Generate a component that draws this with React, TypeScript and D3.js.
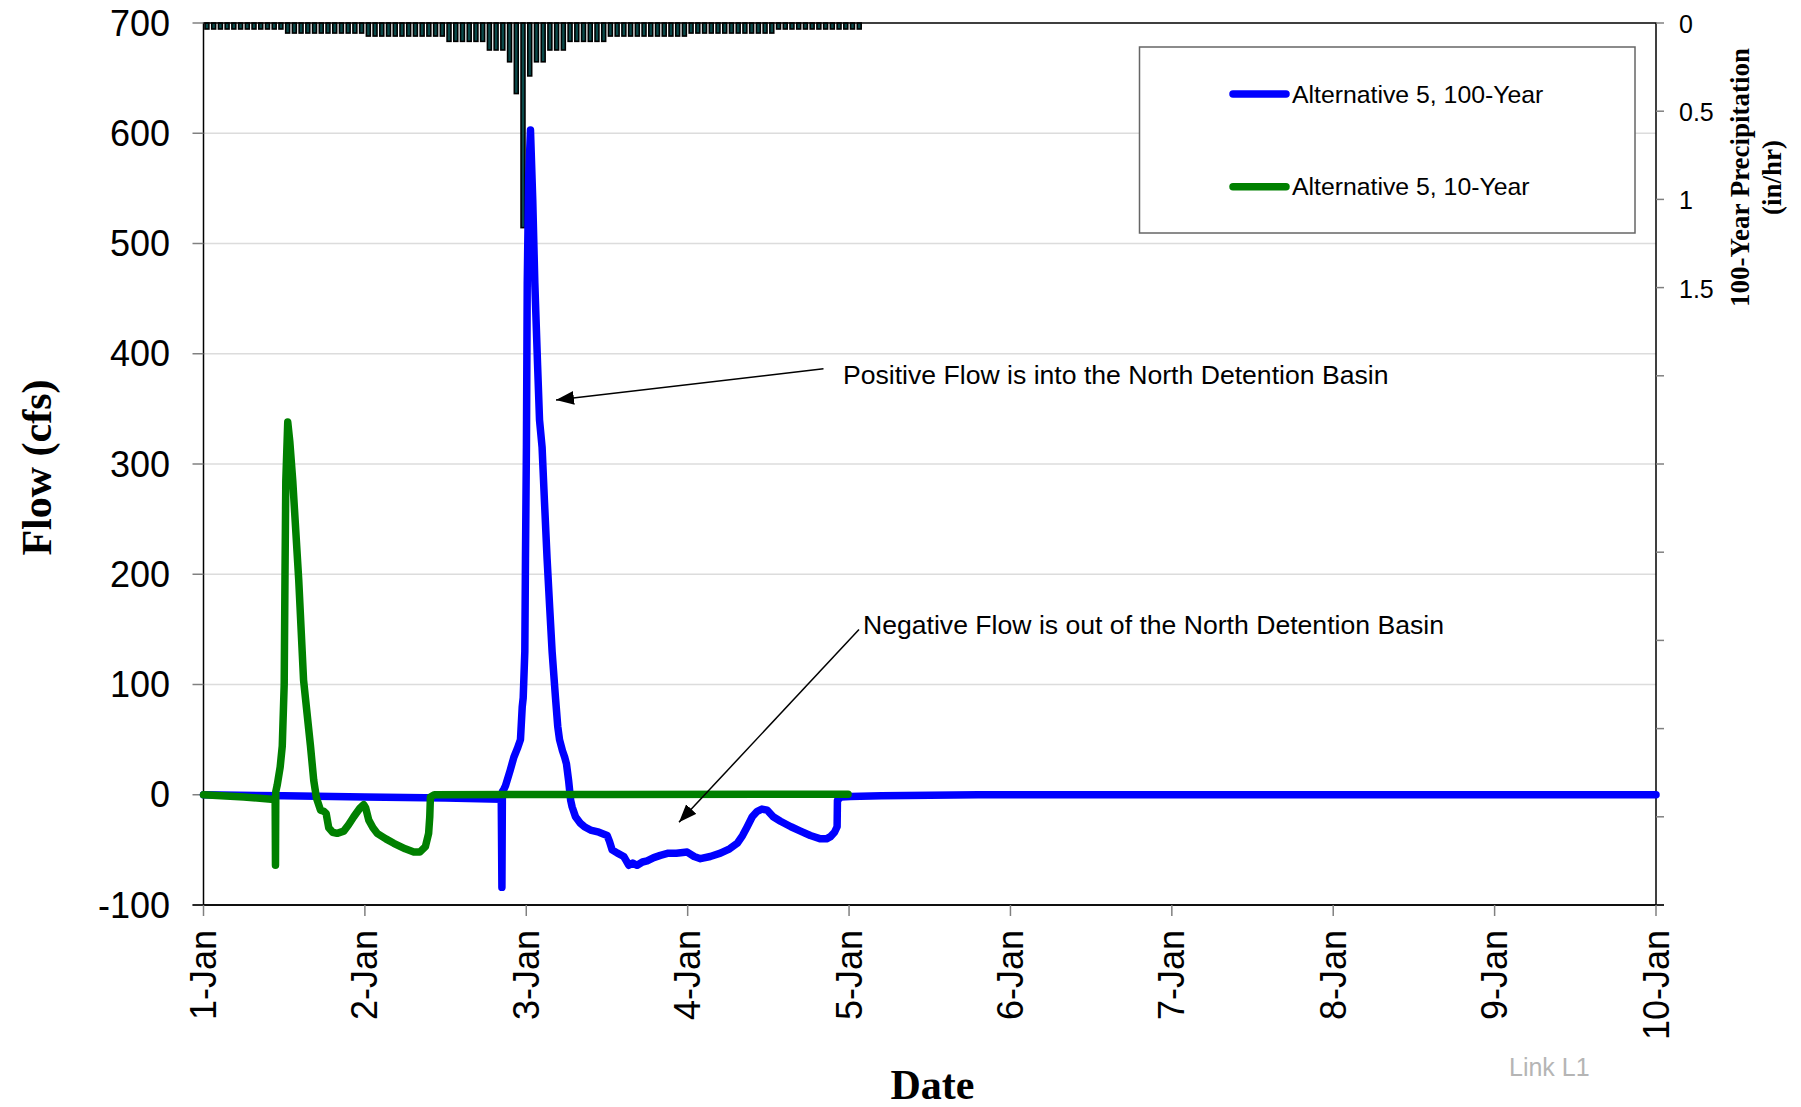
import * as d3 from 'd3';
import React from 'react';

// Flow series, time in days (1 = 1-Jan 00:00)
const blueDays = [1.0, 1.5, 2.0, 2.5, 2.845, 2.849, 2.852, 2.861, 2.871, 2.9, 2.923, 2.945, 2.964, 2.975, 2.981, 2.991, 2.995, 3.001, 3.006, 3.015, 3.026, 3.04, 3.053, 3.07, 3.082, 3.098, 3.113, 3.129, 3.145, 3.16, 3.181, 3.195, 3.206, 3.224, 3.238, 3.249, 3.263, 3.275, 3.284, 3.305, 3.336, 3.36, 3.398, 3.45, 3.501, 3.515, 3.532, 3.565, 3.604, 3.62, 3.635, 3.66, 3.687, 3.72, 3.749, 3.79, 3.831, 3.88, 3.93, 3.997, 4.04, 4.079, 4.14, 4.203, 4.26, 4.307, 4.34, 4.369, 4.4, 4.431, 4.46, 4.493, 4.53, 4.575, 4.64, 4.699, 4.76, 4.823, 4.86, 4.885, 4.91, 4.926, 4.928, 4.95, 5.007, 5.2, 5.5, 5.8, 10.0];
const blueFlow = [0, -1, -2, -3, -4, -84, 3, 5, 8, 22, 34, 42, 50, 80, 88, 130, 214, 318, 464, 560, 603, 540, 464, 390, 340, 315, 265, 214, 170, 130, 88, 62, 50, 40, 34, 28, 12, -5, -11, -20, -26, -29, -32, -34, -37, -42, -50, -53, -56, -60, -64, -62, -64, -61, -60, -57, -55, -53, -53, -52, -56, -58, -56, -53, -49, -44, -37, -29, -20, -15, -13, -14, -20, -24, -29, -33, -37, -40, -40, -38, -34, -29, -5, -2, -1.5, -1, -0.5, 0, 0];

const greenDays = [1.0, 1.25, 1.42, 1.444, 1.446, 1.448, 1.457, 1.475, 1.488, 1.5, 1.505, 1.51, 1.522, 1.535, 1.553, 1.59, 1.62, 1.663, 1.683, 1.7, 1.725, 1.745, 1.76, 1.776, 1.8, 1.828, 1.869, 1.9, 1.931, 1.97, 1.993, 2.005, 2.024, 2.05, 2.076, 2.13, 2.179, 2.25, 2.303, 2.34, 2.375, 2.395, 2.402, 2.406, 2.43, 3.5, 4.994];
const greenFlow = [0, -2, -4, -4, -64, 3, 9, 25, 44, 100, 200, 285, 338, 320, 285, 195, 104, 44, 13, -3, -14, -15, -17, -30, -34, -35, -33, -27, -20, -12, -9, -12, -23, -30, -35, -40, -44, -49, -52, -52, -47, -35, -20, -2, 0, 0.3, 0.5];

// hourly 100-year precipitation (in/hr), starting 1-Jan 00:00
const precipHourly = [
  0.034, 0.034, 0.034, 0.034, 0.034, 0.034, 0.034, 0.034, 0.034, 0.034, 0.034, 0.034,
  0.057, 0.057, 0.057, 0.057, 0.057, 0.057, 0.057, 0.057, 0.057, 0.057, 0.057, 0.057,
  0.074, 0.074, 0.074, 0.074, 0.074, 0.074, 0.074, 0.074, 0.074, 0.074, 0.074, 0.074,
  0.104, 0.104, 0.104, 0.104, 0.104, 0.104,
  0.153, 0.153, 0.153,
  0.22, 0.40, 1.16, 0.30, 0.22, 0.22,
  0.153, 0.153, 0.153,
  0.104, 0.104, 0.104, 0.104, 0.104, 0.104,
  0.074, 0.074, 0.074, 0.074, 0.074, 0.074, 0.074, 0.074, 0.074, 0.074, 0.074, 0.074,
  0.057, 0.057, 0.057, 0.057, 0.057, 0.057, 0.057, 0.057, 0.057, 0.057, 0.057, 0.057, 0.057,
  0.034, 0.034, 0.034, 0.034, 0.034, 0.034, 0.034, 0.034, 0.034, 0.034, 0.034, 0.034, 0.034,
];

const flowTicks = [700, 600, 500, 400, 300, 200, 100, 0, -100];
const precipTicks = [0, 0.5, 1, 1.5, 2, 2.5, 3, 3.5, 4, 4.5, 5];
const precipLabels = [0, 0.5, 1, 1.5];
const seriesNames = ['Alternative 5, 100-Year', 'Alternative 5, 10-Year'];
const seriesColors = ['#0000ff', '#008000'];

const SANS = '"Liberation Sans", Arial, sans-serif';
const SERIF = '"Liberation Serif", "Times New Roman", serif';

const START = new Date(2000, 0, 1);
const toDate = (d: number) => new Date(START.getTime() + (d - 1) * 864e5);

const App = () => {
  const left = 203.5, right = 1656, top = 23, bottom = 905;

  const x = d3.scaleTime().domain([toDate(1), toDate(10)]).range([left, right]);
  const y = d3.scaleLinear().domain([-100, 700]).range([bottom, top]);
  const y2 = d3.scaleLinear().domain([0, 5]).range([top, bottom]);

  const line = d3.line<[number, number]>()
    .x(d => x(toDate(d[0])))
    .y(d => y(d[1]));

  const bluePts = blueDays.map((d, i) => [d, blueFlow[i]] as [number, number]);
  const greenPts = greenDays.map((d, i) => [d, greenFlow[i]] as [number, number]);

  const dayTicks = x.ticks(d3.timeDay.every(1)!);
  const fmt = d3.timeFormat('%-d-%b');

  return (
    <svg width={1801} height={1107} style={{ position: 'absolute', left: 0, top: 0, background: '#fff' }}>
      <defs>
        <marker id="arr" markerUnits="userSpaceOnUse" markerWidth={20} markerHeight={16} refX={18} refY={7} orient="auto">
          <path d="M0,0 L18,7 L0,14 Z" fill="#000" />
        </marker>
      </defs>

      {/* gridlines */}
      {flowTicks.filter(t => t !== 700 && t !== -100).map(t => (
        <line key={'g' + t} x1={left} x2={right} y1={y(t)} y2={y(t)} stroke="#dcdcdc" strokeWidth={1.5} />
      ))}

      {/* precipitation bars hanging from top */}
      {precipHourly.map((p, i) => {
        const x0 = x(d3.timeHour.offset(START, i));
        const x1 = x(d3.timeHour.offset(START, i + 1));
        const w = (x1 - x0) * 0.58;
        return (
          <rect key={'p' + i} x={x0 + 1.5} y={y2(0)} width={w} height={y2(p) - y2(0)}
            fill="#0a4a4a" stroke="#000" strokeWidth={1.6} />
        );
      })}

      {/* plot frame */}
      <rect x={left} y={top} width={right - left} height={bottom - top} fill="none" stroke="#000" strokeWidth={1.5} />

      {/* left axis ticks + labels */}
      {flowTicks.map(t => (
        <g key={'l' + t}>
          <line x1={left - 11} x2={left} y1={y(t)} y2={y(t)} stroke="#808080" strokeWidth={1.5} />
          <text x={170} y={y(t)} textAnchor="end" dominantBaseline="central" fontFamily={SANS} fontSize={36} fill="#000">{t}</text>
        </g>
      ))}

      {/* right axis */}
      {precipTicks.map(t => (
        <line key={'r' + t} x1={right} x2={right + 8} y1={y2(t)} y2={y2(t)} stroke="#808080" strokeWidth={1.5} />
      ))}
      {precipLabels.map(t => (
        <text key={'rl' + t} x={1679} y={y2(t) + 1} dominantBaseline="central" fontFamily={SANS} fontSize={25} fill="#000">{t}</text>
      ))}

      {/* bottom axis */}
      <line x1={left - 11} x2={right + 8} y1={bottom} y2={bottom} stroke="#000" strokeWidth={1.5} />
      {dayTicks.map(d => (
        <g key={'x' + d.getTime()}>
          <line x1={x(d)} x2={x(d)} y1={bottom} y2={bottom + 11} stroke="#808080" strokeWidth={1.5} />
          <text transform={`translate(${x(d)},930) rotate(-90)`} textAnchor="end" dominantBaseline="central"
            fontFamily={SANS} fontSize={36} fill="#000">{fmt(d)}</text>
        </g>
      ))}

      {/* series */}
      <path d={line(bluePts) || ''} fill="none" stroke={seriesColors[0]} strokeWidth={7.5} strokeLinejoin="round" strokeLinecap="round" />
      <path d={line(greenPts) || ''} fill="none" stroke={seriesColors[1]} strokeWidth={7.5} strokeLinejoin="round" strokeLinecap="round" />

      {/* legend */}
      <rect x={1139.5} y={47} width={495.5} height={186} fill="#fff" stroke="#666" strokeWidth={1.5} />
      {seriesNames.map((n, i) => (
        <g key={n}>
          <line x1={1233} x2={1286} y1={94 + i * 92.7} y2={94 + i * 92.7} stroke={seriesColors[i]} strokeWidth={7.5} strokeLinecap="round" />
          <text x={1292} y={102.7 + i * 92.3} fontFamily={SANS} fontSize={24.8} fill="#000">{n}</text>
        </g>
      ))}

      {/* annotations */}
      <line x1={823.5} y1={368.7} x2={556} y2={400} stroke="#000" strokeWidth={1.5} markerEnd="url(#arr)" />
      <text x={843} y={383.5} fontFamily={SANS} fontSize={26.6} fill="#000">Positive Flow is into the North Detention Basin</text>
      <line x1={859} y1={629.5} x2={679} y2={822.3} stroke="#000" strokeWidth={1.5} markerEnd="url(#arr)" />
      <text x={863} y={633.5} fontFamily={SANS} fontSize={26.6} fill="#000">Negative Flow is out of the North Detention Basin</text>

      {/* axis titles */}
      <text transform="translate(37,467.5) rotate(-90)" textAnchor="middle" dominantBaseline="central"
        fontFamily={SERIF} fontWeight="bold" fontSize={42} fill="#000">Flow (cfs)</text>
      <text transform="translate(1740,177.5) rotate(-90)" textAnchor="middle" dominantBaseline="central"
        fontFamily={SERIF} fontWeight="bold" fontSize={27} fill="#000">100-Year Precipitation</text>
      <text transform="translate(1772,177.5) rotate(-90)" textAnchor="middle" dominantBaseline="central"
        fontFamily={SERIF} fontWeight="bold" fontSize={27} fill="#000">(in/hr)</text>
      <text x={932.5} y={1099} textAnchor="middle" fontFamily={SERIF} fontWeight="bold" fontSize={42} fill="#000">Date</text>
      <text x={1509} y={1076} fontFamily={SANS} fontSize={25} fill="#b5b5b5">Link L1</text>
    </svg>
  );
};

export default App;
